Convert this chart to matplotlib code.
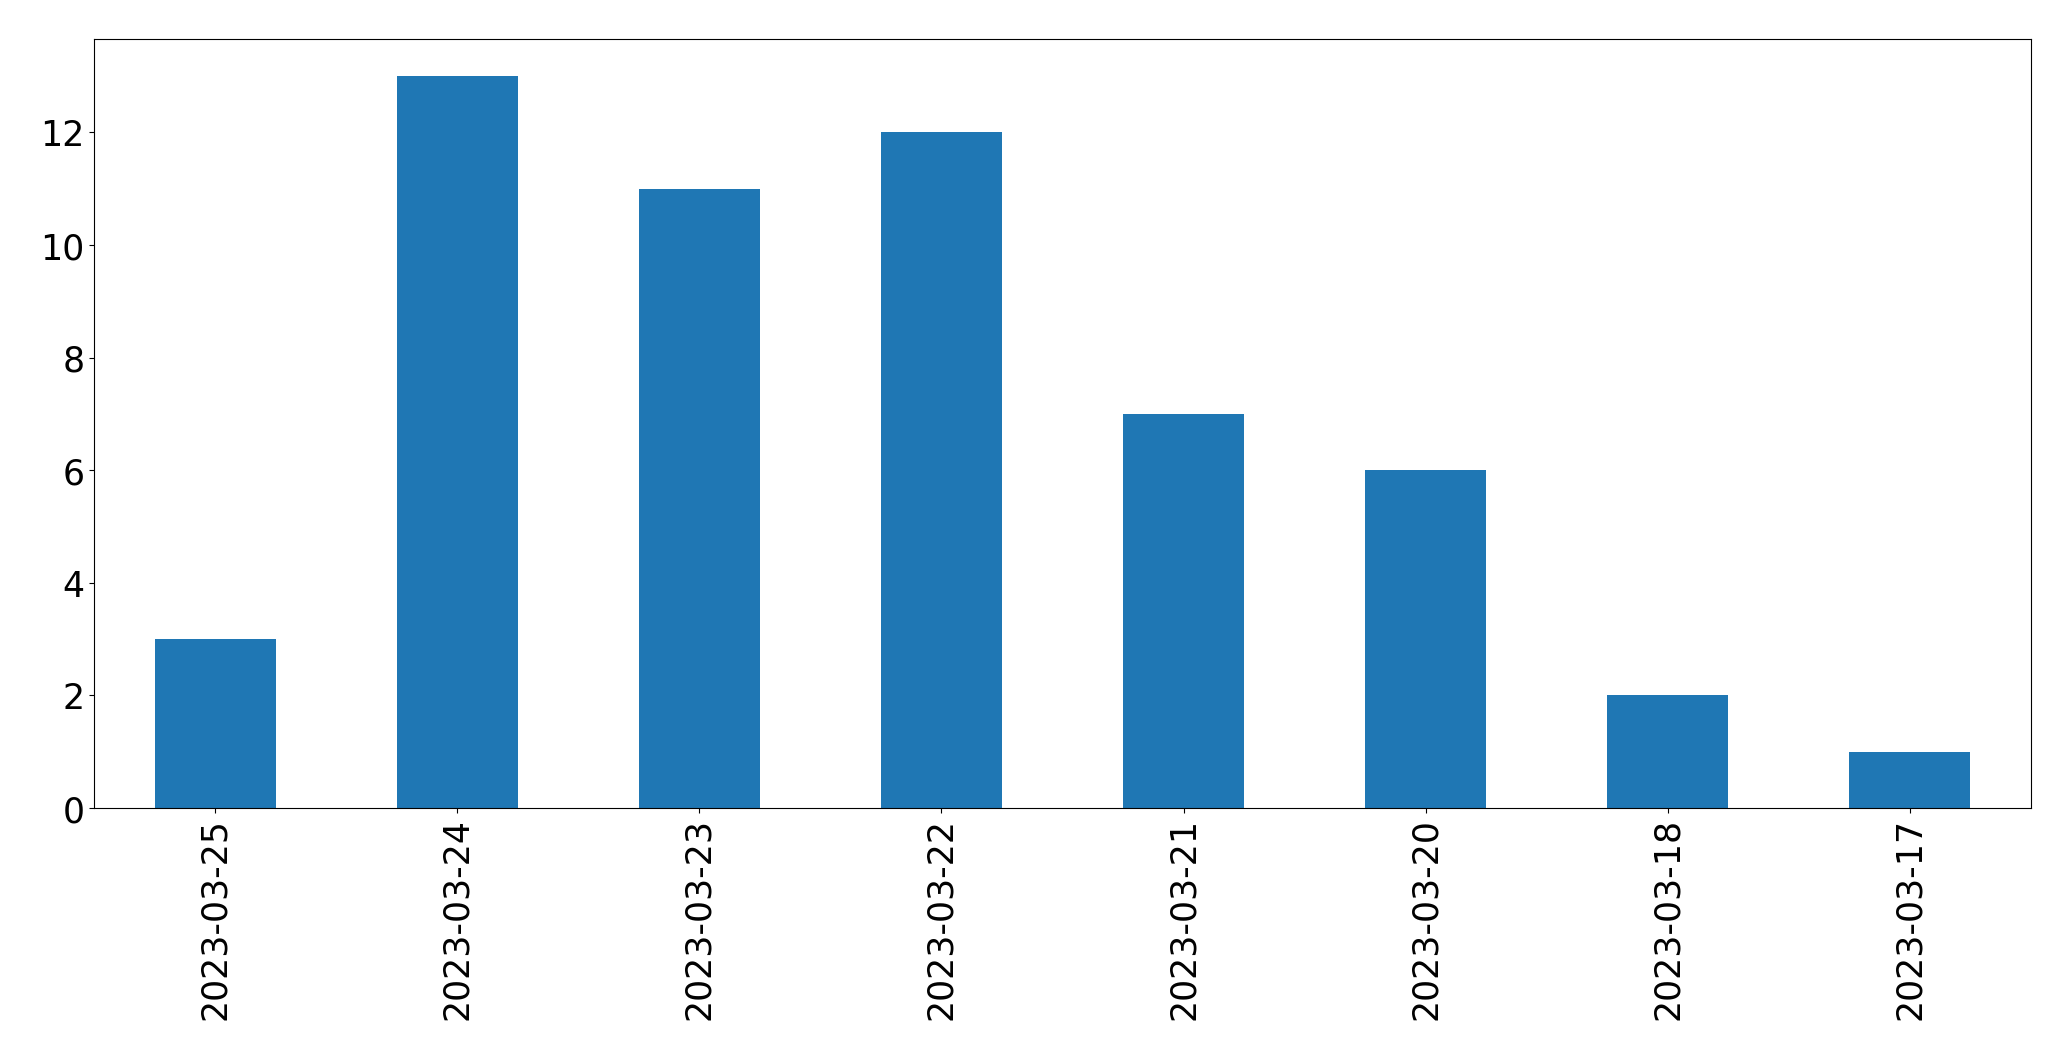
import matplotlib
matplotlib.use('Agg')
import matplotlib.pyplot as plt
import pandas as pd

dates = ['2023-03-25', '2023-03-24', '2023-03-23', '2023-03-22',
         '2023-03-21', '2023-03-20', '2023-03-18', '2023-03-17']
counts = [3, 13, 11, 12, 7, 6, 2, 1]

s = pd.Series(counts, index=dates)

fig = plt.figure(figsize=(20.71, 10.605), dpi=100)
ax = fig.add_axes([94/2071, 1 - 809/1061, (2031-94)/2071, (809-40)/1061])
s.plot(kind='bar', ax=ax, color='#1f77b4', fontsize=25)

fig.savefig('out.png', dpi=100)
